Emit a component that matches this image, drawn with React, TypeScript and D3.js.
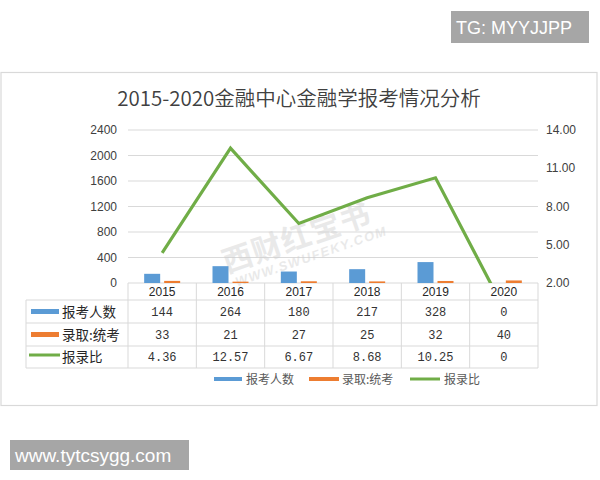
import React from "react";
import * as d3 from "d3";

const years = ["2015", "2016", "2017", "2018", "2019", "2020"];
const applicants = [144, 264, 180, 217, 328, 0];
const admitted = [33, 21, 27, 25, 32, 40];
const ratio = [4.36, 12.57, 6.67, 8.68, 10.25, 0];
const ratioLabels = ["4.36", "12.57", "6.67", "8.68", "10.25", "0"];
const leftTicks = [0, 400, 800, 1200, 1600, 2000, 2400];
const rightTicks = [2, 5, 8, 11, 14];
const seriesNames = ["报考人数", "录取:统考", "报录比"];
const colors = ["#5b9bd5", "#ed7d31", "#70ad47"];

const W = 600, H = 480;
const plotL = 128, plotR = 538, plotT = 130, plotB = 283;
const rowH = [300, 323, 346, 368];

export default function App() {
  const x = d3.scaleBand<string>().domain(years).range([plotL, plotR]);
  const yL = d3.scaleLinear().domain([0, 2400]).range([plotB, plotT]);
  const yR = d3.scaleLinear().domain([2, 14]).range([plotB, plotT]);
  const bw = 16, gap = 4;
  const cx = (y: string) => (x(y) as number) + x.bandwidth() / 2;
  const line = d3.line<number>().x((_, i) => cx(years[i])).y((d) => yR(d));
  const grid = "#d9d9d9";
  const numFont = "'Liberation Mono', 'DejaVu Sans Mono', monospace";
  const latin = "'Liberation Sans', Arial, sans-serif";
  const cjk = "'Noto Sans CJK SC', 'Noto Sans', sans-serif";
  const rows = [applicants.map(String), admitted.map(String), ratioLabels];
  const rowCenters = [311.5, 334.5, 357];

  return (
    <svg width={W} height={H} style={{ position: "absolute", left: 0, top: 0, background: "#fff" }}>
      <rect x={0} y={0} width={W} height={H} fill="#fff" />
      {/* top-right badge */}
      <rect x={451} y={11} width={138} height={32} fill="#a6a6a6" />
      <text x={456} y={34} fill="#fff" fontFamily={latin} fontSize={18}>TG: MYYJJPP</text>
      {/* frame */}
      <rect x={1} y={72.5} width={596} height={333} fill="#fff" stroke="#d9d9d9" strokeWidth={1.2} />
      {/* title */}
      <text x={299} y={106} textAnchor="middle" fill="#404040" fontFamily={cjk} fontSize={20.5} fontWeight={350}>
        2015-2020金融中心金融学报考情况分析
      </text>
      {/* gridlines */}
      {leftTicks.map((t) => (
        <line key={t} x1={plotL} x2={plotR} y1={yL(t)} y2={yL(t)} stroke={grid} strokeWidth={1} />
      ))}
      {/* left axis labels */}
      {leftTicks.map((t) => (
        <text key={"l" + t} x={117} y={yL(t) + 4} textAnchor="end" fill="#404040" fontFamily={latin} fontSize={12}>
          {t}
        </text>
      ))}
      {/* right axis labels */}
      {rightTicks.map((t) => (
        <text key={"r" + t} x={546} y={yR(t) + 4} fill="#404040" fontFamily={latin} fontSize={12}>
          {t.toFixed(2)}
        </text>
      ))}
      {/* watermark */}
      <g transform="translate(300,248) rotate(-19)" opacity={0.45}>
        <text x={0} y={0} textAnchor="middle" fill="#d0d0d0" fontFamily={cjk} fontWeight={700} fontSize={30} letterSpacing={1}>
          西财红宝书
        </text>
        <text x={8} y={16} textAnchor="middle" fill="#d0d0d0" fontFamily={latin} fontStyle="italic" fontWeight={700} fontSize={13} letterSpacing={1.5}>
          WWW.SWUFEKY.COM
        </text>
      </g>
      {/* bars */}
      {years.map((yr, i) => {
        const c = cx(yr);
        return (
          <g key={yr}>
            <rect x={c - bw - gap / 2} y={yL(applicants[i])} width={bw} height={plotB - yL(applicants[i])} fill={colors[0]} />
            <rect x={c + gap / 2} y={yL(admitted[i])} width={bw} height={plotB - yL(admitted[i])} fill={colors[1]} />
          </g>
        );
      })}
      {/* line */}
      <defs>
        <clipPath id="plotClip">
          <rect x={plotL} y={plotT - 20} width={plotR - plotL} height={plotB - plotT + 20} />
        </clipPath>
      </defs>
      <path d={line(ratio) || ""} fill="none" stroke={colors[2]} strokeWidth={3.2} strokeLinejoin="miter" clipPath="url(#plotClip)" />
      {/* table */}
      {rowH.map((yy) => (
        <line key={yy} x1={26} x2={plotR} y1={yy} y2={yy} stroke={grid} />
      ))}
      <line x1={26} x2={26} y1={rowH[0]} y2={rowH[3]} stroke={grid} />
      {years.map((yr) => (
        <line key={"v" + yr} x1={x(yr)} x2={x(yr)} y1={plotB} y2={rowH[3]} stroke={grid} />
      ))}
      <line x1={plotR} x2={plotR} y1={plotB} y2={rowH[3]} stroke={grid} />
      {years.map((yr) => (
        <text key={"y" + yr} x={cx(yr)} y={296} textAnchor="middle" fill="#262626" fontFamily={latin} fontSize={12}>
          {yr}
        </text>
      ))}
      {rows.map((r, ri) =>
        r.map((v, i) => (
          <text key={ri + "-" + i} x={cx(years[i])} y={rowCenters[ri] + 4} textAnchor="middle" fill="#333" fontFamily={numFont} fontSize={12}>
            {v}
          </text>
        ))
      )}
      {/* table legend keys */}
      <rect x={31} y={309} width={28} height={5} fill={colors[0]} />
      <rect x={31} y={332} width={28} height={5} fill={colors[1]} />
      <line x1={29} x2={60} y1={355} y2={355} stroke={colors[2]} strokeWidth={3} />
      {seriesNames.map((s, i) => (
        <text key={s} x={62} y={rowCenters[i] + 5} fill="#262626" fontFamily={cjk} fontSize={13.5}>
          {s}
        </text>
      ))}
      {/* bottom legend */}
      <rect x={214} y={377} width={28} height={4} fill={colors[0]} />
      <text x={246} y={384} fill="#595959" fontFamily={cjk} fontSize={12}>{seriesNames[0]}</text>
      <rect x={309} y={377} width={30} height={4} fill={colors[1]} />
      <text x={342} y={384} fill="#595959" fontFamily={cjk} fontSize={12}>{seriesNames[1]}</text>
      <line x1={410} x2={440} y1={379} y2={379} stroke={colors[2]} strokeWidth={3} />
      <text x={444} y={384} fill="#595959" fontFamily={cjk} fontSize={12}>{seriesNames[2]}</text>
      {/* bottom-left badge */}
      <rect x={10} y={440} width={179} height={30} fill="#a6a6a6" />
      <text x={15} y={462} fill="#fff" fontFamily={latin} fontSize={19}>www.tytcsygg.com</text>
    </svg>
  );
}
